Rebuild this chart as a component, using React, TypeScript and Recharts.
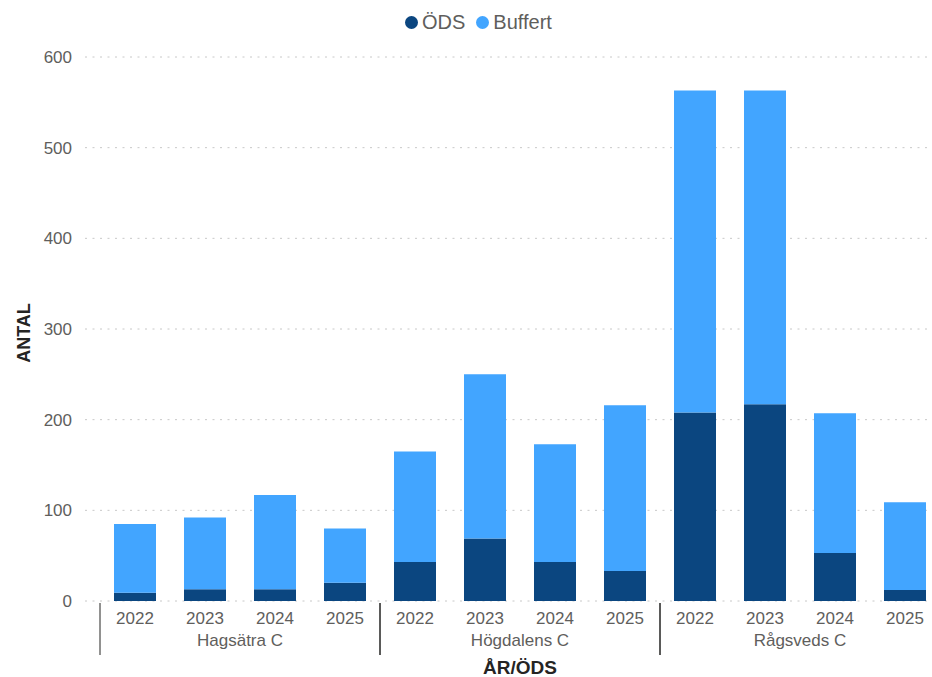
import React from 'react';
import { BarChart, Bar, XAxis, YAxis, CartesianGrid, Legend } from 'recharts';

const groups = ['Hagsätra C', 'Högdalens C', 'Rågsveds C'];
const years = ['2022', '2023', '2024', '2025'];
const odsValues = [9, 13, 13, 20, 43, 69, 43, 33, 208, 217, 53, 12];
const buffertValues = [76, 79, 104, 60, 122, 181, 130, 183, 355, 346, 154, 97];
const yTicks = [0, 100, 200, 300, 400, 500, 600];

const DARK = '#0B4680';
const LIGHT = '#42A5FF';
const LABEL = '#605E5C';
const TITLE = '#252423';
const FONT = '"Liberation Sans", Arial, sans-serif';

const data = groups.flatMap((g, gi) =>
  years.map((y, yi) => ({
    key: `${g}|${y}`,
    group: g,
    year: y,
    ods: odsValues[gi * 4 + yi],
    buffert: buffertValues[gi * 4 + yi],
  }))
);

const CategoryTick = (props: any) => {
  const { x, y, payload, index } = props;
  const off = payload && payload.offset != null ? payload.offset : 35;
  const i = typeof index === 'number' ? index : data.findIndex((d) => d.key === payload.value);
  const d = data[i];
  const pos = i % 4;
  return (
    <g>
      <text x={x} y={y + 23} textAnchor="middle" fill={LABEL} fontSize={17} fontFamily={FONT}>
        {d ? d.year : ''}
      </text>
      {pos === 0 && (
        <line x1={x - off} x2={x - off} y1={y + 2} y2={y + 54} stroke={TITLE} strokeWidth={1} />
      )}
      {pos === 3 && (
        <line x1={x + off} x2={x + off} y1={y + 2} y2={y + 54} stroke={TITLE} strokeWidth={1} />
      )}
      {pos === 1 && d && (
        <text x={x + off} y={y + 45} textAnchor="middle" fill={LABEL} fontSize={17} fontFamily={FONT}>
          {d.group}
        </text>
      )}
    </g>
  );
};

const renderLegend = () => (
  <div
    style={{
      display: 'flex',
      alignItems: 'center',
      fontFamily: FONT,
      fontSize: 20,
      color: LABEL,
      lineHeight: '22px',
    }}
  >
    {[
      { name: 'ÖDS', color: DARK },
      { name: 'Buffert', color: LIGHT },
    ].map((it, k) => (
      <div key={it.name} style={{ display: 'flex', alignItems: 'center', marginLeft: k ? 11 : 0 }}>
        <svg width={13} height={13} style={{ marginRight: 4 }}>
          <circle cx={6.5} cy={6.5} r={6.5} fill={it.color} />
        </svg>
        <span>{it.name}</span>
      </div>
    ))}
  </div>
);

export default function App() {
  return (
    <div
      style={{
        position: 'absolute',
        left: 0,
        top: 0,
        width: 932,
        height: 677,
        overflow: 'hidden',
        background: '#fff',
      }}
    >
      <BarChart
        width={950}
        height={677}
        data={data}
        margin={{ top: 57, right: 10, bottom: 0, left: 0 }}
        barCategoryGap="20%"
      >
        <CartesianGrid vertical={false} stroke="#C8C8C8" strokeDasharray="2 5.5" />
        <XAxis
          dataKey="key"
          height={76}
          interval={0}
          axisLine={false}
          tickLine={false}
          tickSize={0}
          tickMargin={0}
          padding={{ left: 15, right: 0 }}
          tick={<CategoryTick />}
          label={{
            content: (p: any) => {
              const vb = p.viewBox || {};
              const cx = vb.x + 15 + (vb.width - 15) / 2;
              return (
                <text
                  x={cx}
                  y={674}
                  textAnchor="middle"
                  fill={TITLE}
                  fontSize={19}
                  fontWeight="bold"
                  fontFamily={FONT}
                >
                  ÅR/ÖDS
                </text>
              );
            },
          }}
        />
        <YAxis
          width={85}
          domain={[0, 600]}
          ticks={yTicks}
          axisLine={false}
          tickLine={false}
          tickSize={0}
          tickMargin={13}
          tick={{ fill: LABEL, fontSize: 17, fontFamily: FONT }}
          label={{
            content: (p: any) => {
              const vb = p.viewBox || {};
              const cy = vb.y + vb.height / 2 + 4;
              return (
                <text
                  x={0}
                  y={0}
                  transform={`translate(30, ${cy}) rotate(-90)`}
                  textAnchor="middle"
                  fill={TITLE}
                  fontSize={18}
                  fontWeight="bold"
                  fontFamily={FONT}
                >
                  ANTAL
                </text>
              );
            },
          }}
        />
        <Legend
          verticalAlign="middle"
          align="center"
          content={renderLegend}
          wrapperStyle={{ position: 'absolute', top: 11, left: 405, width: 'auto' }}
        />
        <Bar dataKey="ods" name="ÖDS" stackId="a" fill={DARK} isAnimationActive={false} />
        <Bar dataKey="buffert" name="Buffert" stackId="a" fill={LIGHT} isAnimationActive={false} />
      </BarChart>
    </div>
  );
}
